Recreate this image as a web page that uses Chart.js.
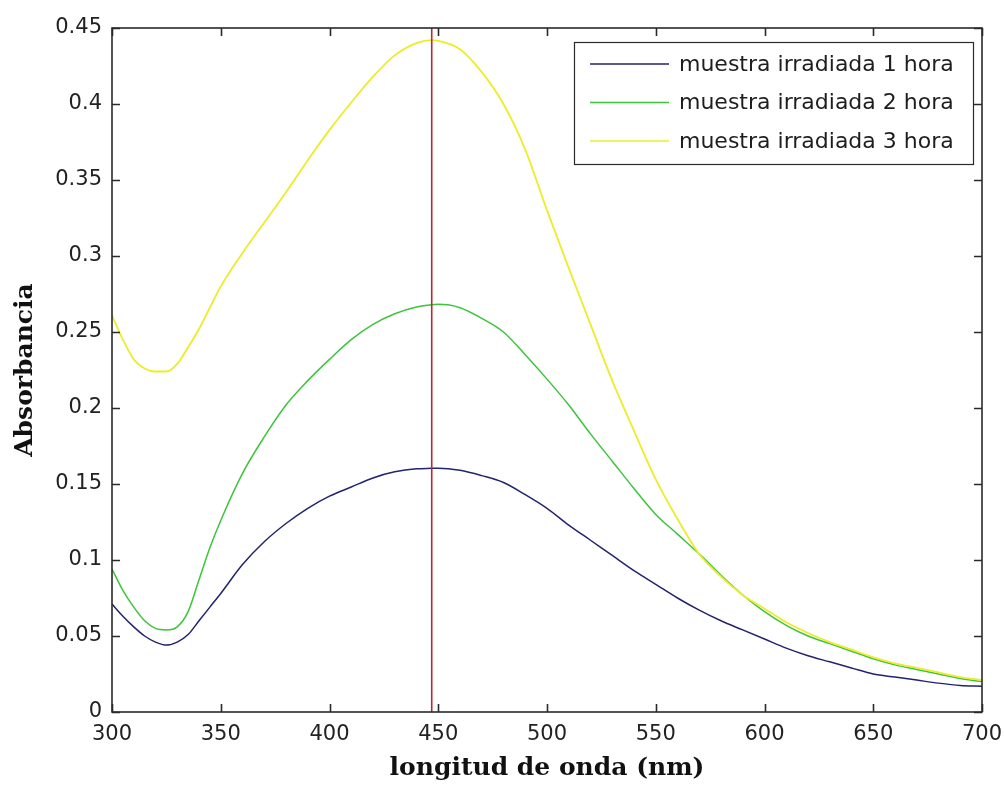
<!DOCTYPE html>
<html lang="es">
<head>
  <meta charset="UTF-8">
  <title>Absorbancia vs longitud de onda</title>
  <script src="https://cdn.jsdelivr.net/npm/chart.js"></script>
  <style>
    body {
      margin: 0;
      background-color: #ffffff;
    }
    #zona {
      width: 1005px;
      height: 789px;
    }
  </style>
</head>
<body>
  <div id="zona">
    <canvas id="grafico" width="1005" height="789"></canvas>
  </div>

  <script>
    // longitudes de onda (nm) y absorbancias
    const longitudes = [300, 305, 310, 315, 320, 325, 330, 335, 340, 345, 350, 360, 370, 380, 390, 400,
      410, 420, 430, 440, 447, 450, 460, 470, 480, 490, 500, 510, 520, 530, 540, 550, 560, 570, 580,
      590, 600, 610, 620, 630, 640, 650, 660, 670, 680, 690, 700];

    const hora1 = [0.071, 0.063, 0.056, 0.050, 0.046, 0.044, 0.046, 0.051, 0.060, 0.069, 0.078, 0.097,
      0.112, 0.124, 0.134, 0.142, 0.148, 0.154, 0.158, 0.160, 0.1603, 0.1604, 0.159, 0.1555, 0.151, 0.143,
      0.134, 0.123, 0.113, 0.103, 0.093, 0.084, 0.075, 0.067, 0.060, 0.054, 0.048, 0.042, 0.037, 0.033,
      0.029, 0.025, 0.023, 0.021, 0.019, 0.0175, 0.017];

    const hora2 = [0.094, 0.080, 0.069, 0.060, 0.055, 0.054, 0.056, 0.066, 0.087, 0.108, 0.126, 0.157,
      0.181, 0.202, 0.218, 0.232, 0.245, 0.255, 0.262, 0.2665, 0.268, 0.2682, 0.266, 0.259, 0.250, 0.235,
      0.219, 0.202, 0.183, 0.165, 0.147, 0.130, 0.117, 0.104, 0.090, 0.077, 0.066, 0.057, 0.050, 0.045,
      0.040, 0.035, 0.031, 0.028, 0.025, 0.022, 0.020];

    const hora3 = [0.261, 0.245, 0.232, 0.226, 0.224, 0.224, 0.229, 0.240, 0.252, 0.266, 0.280, 0.302,
      0.322, 0.342, 0.363, 0.383, 0.401, 0.418, 0.432, 0.440, 0.442, 0.4415, 0.436, 0.421, 0.400, 0.370,
      0.330, 0.292, 0.255, 0.218, 0.185, 0.153, 0.127, 0.104, 0.089, 0.077, 0.068, 0.059, 0.052, 0.046,
      0.041, 0.036, 0.032, 0.029, 0.026, 0.023, 0.021];

    const etiquetas = ['muestra irradiada 1 hora', 'muestra irradiada 2 hora', 'muestra irradiada 3 hora'];
    const colores = ['#23236e', '#3cc43c', '#ecec2a'];

    const picoNm = 447;
    const yMin = 0, yMax = 0.45;

    function puntos(serie) {
      return longitudes.map((x, i) => ({ x: x, y: serie[i] }));
    }

    // marco y marcas hacia adentro en los cuatro lados, estilo matlab
    const marco = {
      id: 'marco',
      afterDraw(chart) {
        const ctx = chart.ctx;
        const a = chart.chartArea;
        const sx = chart.scales.x;
        const sy = chart.scales.y;
        const largo = 8;
        ctx.save();
        ctx.strokeStyle = '#2a2a2a';
        ctx.lineWidth = 1.6;
        ctx.strokeRect(a.left, a.top, a.right - a.left, a.bottom - a.top);
        ctx.beginPath();
        sx.ticks.forEach(t => {
          const px = Math.round(sx.getPixelForValue(t.value)) + 0.5;
          ctx.moveTo(px, a.bottom); ctx.lineTo(px, a.bottom - largo);
          ctx.moveTo(px, a.top); ctx.lineTo(px, a.top + largo);
        });
        sy.ticks.forEach(t => {
          const py = Math.round(sy.getPixelForValue(t.value)) + 0.5;
          ctx.moveTo(a.left, py); ctx.lineTo(a.left + largo, py);
          ctx.moveTo(a.right, py); ctx.lineTo(a.right - largo, py);
        });
        ctx.stroke();

        // leyenda dentro del area, arriba a la derecha
        const ancho = 399, alto = 122;
        const lx = a.right - 9 - ancho;
        const ly = a.top + 14;
        ctx.fillStyle = '#ffffff';
        ctx.fillRect(lx, ly, ancho, alto);
        ctx.lineWidth = 1.2;
        ctx.strokeStyle = '#2a2a2a';
        ctx.strokeRect(lx + 0.5, ly + 0.5, ancho, alto);
        ctx.font = '22px "DejaVu Sans"';
        ctx.textBaseline = 'middle';
        ctx.textAlign = 'left';
        etiquetas.forEach((txt, i) => {
          const fy = ly + 22 + i * 38.5;
          ctx.strokeStyle = colores[i];
          ctx.lineWidth = 1.6;
          ctx.beginPath();
          ctx.moveTo(lx + 16, fy);
          ctx.lineTo(lx + 95, fy);
          ctx.stroke();
          ctx.fillStyle = '#1e1e1e';
          ctx.fillText(txt, lx + 105, fy + 1);
        });
        ctx.restore();
      }
    };

    new Chart(document.getElementById('grafico'), {
      type: 'line',
      data: {
        datasets: [
          {
            label: 'pico',
            data: [{ x: picoNm, y: yMin }, { x: picoNm, y: yMax }],
            borderColor: '#b8282e',
            borderWidth: 1.6,
            pointRadius: 0,
            order: 0
          },
          {
            label: etiquetas[0],
            data: puntos(hora1),
            borderColor: colores[0],
            borderWidth: 1.5,
            pointRadius: 0,
            cubicInterpolationMode: 'monotone',
            order: 3
          },
          {
            label: etiquetas[1],
            data: puntos(hora2),
            borderColor: colores[1],
            borderWidth: 1.5,
            pointRadius: 0,
            cubicInterpolationMode: 'monotone',
            order: 2
          },
          {
            label: etiquetas[2],
            data: puntos(hora3),
            borderColor: colores[2],
            borderWidth: 1.8,
            pointRadius: 0,
            cubicInterpolationMode: 'monotone',
            order: 1
          }
        ]
      },
      options: {
        responsive: false,
        animation: false,
        layout: {
          padding: { top: 28, right: 23, left: 0, bottom: 0 }
        },
        plugins: {
          legend: { display: false },
          tooltip: { enabled: false }
        },
        scales: {
          x: {
            type: 'linear',
            min: 300,
            max: 700,
            grid: { display: false, drawTicks: false },
            border: { display: false },
            afterFit: s => { s.height = 77; s.paddingLeft = 0; s.paddingRight = 0; },
            ticks: {
              stepSize: 50,
              padding: 10,
              color: '#222',
              font: { family: 'DejaVu Sans', size: 21 }
            },
            title: {
              display: true,
              text: 'longitud de onda (nm)',
              color: '#111',
              padding: { top: 0, bottom: 6 },
              font: { family: 'DejaVu Serif', size: 25, weight: 'bold' }
            }
          },
          y: {
            min: yMin,
            max: yMax,
            grid: { display: false, drawTicks: false },
            border: { display: false },
            afterFit: s => { s.width = 112; s.paddingTop = 0; s.paddingBottom = 0; },
            ticks: {
              stepSize: 0.05,
              padding: 10,
              color: '#222',
              font: { family: 'DejaVu Sans', size: 21 },
              callback: v => String(+v.toFixed(2))
            },
            title: {
              display: true,
              text: 'Absorbancia',
              color: '#111',
              padding: { top: 10, bottom: 0 },
              font: { family: 'DejaVu Serif', size: 25, weight: 'bold' }
            }
          }
        }
      },
      plugins: [marco]
    });
  </script>
</body>
</html>
